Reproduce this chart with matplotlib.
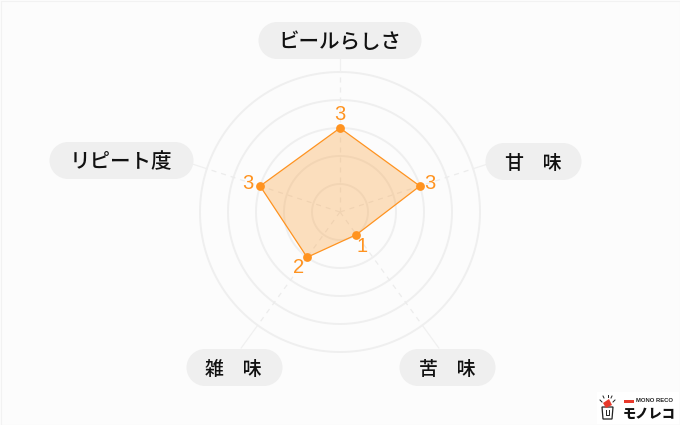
import numpy as np
import matplotlib
matplotlib.use("Agg")
import matplotlib.pyplot as plt
from matplotlib.patches import Rectangle, Polygon

plt.rcParams['font.family'] = ['Noto Sans CJK JP', 'DejaVu Sans']

categories = ['ビールらしさ', '甘　味', '苦　味', '雑　味', 'リピート度']
values = [3, 3, 1, 2, 3]
rings = [1, 2, 3, 4, 5]

W, H = 680, 425
CX, CY = 340, 212
UNIT = 28
ORANGE = '#ff9320'
RMAX = 6
PILL = '#efefef'

fig = plt.figure(figsize=(W / 100, H / 100), dpi=100, facecolor='#fcfcfc')

# overlay in pixel coordinates for the pills and the logo
bg = fig.add_axes([0, 0, 1, 1], zorder=3)
bg.set_xlim(0, W)
bg.set_ylim(H, 0)
bg.axis('off')
bg.add_patch(Rectangle((0.5, 0.5), W - 1, H - 1, fc='none', ec='#f2f2f2', lw=0.8))

# polar axes sized so one value step is 28 px
size = RMAX * UNIT
ax = fig.add_axes([(CX - size) / W, 1 - (CY + size) / H, 2 * size / W, 2 * size / H],
                  polar=True, zorder=2)
ax.set_theta_zero_location('N')
ax.set_theta_direction(-1)
ax.set_ylim(0, RMAX)
ax.axis('off')
ax.patch.set_alpha(0)

angles = np.arange(len(categories)) * 2 * np.pi / len(categories)
theta = np.linspace(0, 2 * np.pi, 361)

for r in rings:
    ax.plot(theta, np.full_like(theta, r), color='#efefef', lw=1.4, zorder=1)

spoke_ends = [5.5, 5.5, 6.0, 6.0, 5.5]
for a, end in zip(angles, spoke_ends):
    ax.plot([a, a], [0, 5], color='#ececec', lw=0.9, ls=(0, (4, 4)), zorder=1)
    ax.plot([a, a], [5, end], color='#f0f0f0', lw=0.9, zorder=1, clip_on=False)

closed_a = np.append(angles, angles[0])
closed_v = np.append(values, values[0])
ax.fill(closed_a, closed_v, color='#fb9a2e', alpha=0.3, lw=0, zorder=2)
ax.plot(closed_a, closed_v, color=ORANGE, lw=0.9, zorder=3)
ax.scatter(angles, values, s=40, color=ORANGE, lw=0, zorder=4)

value_offsets = [(0, 14), (10, 3), (6, -12), (-9, -10), (-12, 3)]
for a, v, (dx, dy) in zip(angles, values, value_offsets):
    ax.annotate(str(v), (a, v), xytext=(dx * 0.72, dy * 0.72), textcoords='offset points',
                ha='center', va='center', color=ORANGE, fontsize=14.5,
                family='Liberation Sans', zorder=5)

pills = [(259, 22, 162, 37), (486, 143, 95, 37), (400, 349, 95, 37),
         (187, 349, 95, 37), (50, 142, 143, 37)]
label_sizes = [14.8, 13.6, 13.6, 13.6, 14.8]
label_shift = [0, 0, 0, -1, -1]
for name, (x, y, w, h), fs, sh in zip(categories, pills, label_sizes, label_shift):
    bg.add_patch(Rectangle((x + 18, y), w - 36, h, fc=PILL, ec='none'))
    bg.add_patch(plt.Circle((x + 18, y + h / 2), h / 2, fc=PILL, ec='none'))
    bg.add_patch(plt.Circle((x + w - 18, y + h / 2), h / 2, fc=PILL, ec='none'))
    bg.text(x + w / 2 + sh, y + h / 2 + 1.5, name, ha='center', va='center',
            fontsize=fs, color='#111111', fontweight='medium')

# logo
bg.add_patch(Rectangle((597, 392), 82, 32, fc='white', ec='none'))
bg.add_patch(Rectangle((624, 399.5), 10, 3, fc='#e8392b', ec='none'))
bg.text(636.5, 401, 'MONO RECO', fontsize=4.2, fontweight='bold', color='#222222',
        ha='left', va='center', family='Liberation Sans')
bg.text(623, 413.5, 'モノレコ', fontsize=9.5, fontweight='black', color='#111111',
        ha='left', va='center')
bg.add_patch(Polygon([(602, 407), (613, 407), (612, 419), (603, 419)], closed=True,
                     fc='white', ec='#222222', lw=0.9))
bg.add_patch(Polygon([(603, 403), (609, 399), (612, 405), (606, 408)], closed=True,
                     fc='#e8392b', ec='none'))
for x0, y0, x1, y1 in [(600, 400, 602, 402), (607.5, 395, 607.5, 397),
                       (615, 400, 613, 402), (603, 396, 604, 398), (612, 396, 611, 398)]:
    bg.plot([x0, x1], [y0, y1], color='#222222', lw=0.7)
bg.plot([606, 606, 609, 609], [410, 415, 415, 410], color='#222222', lw=0.7)

fig.savefig('out.png', dpi=100, facecolor=fig.get_facecolor())
